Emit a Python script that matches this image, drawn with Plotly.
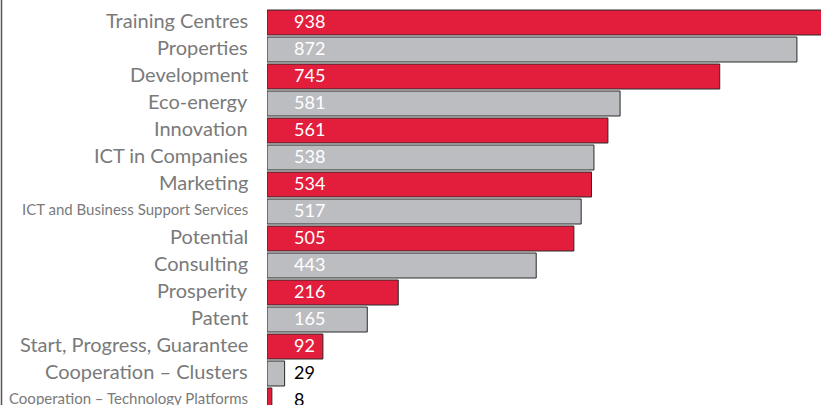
import plotly.graph_objects as go

categories = [
    "Training Centres", "Properties", "Development", "Eco-energy", "Innovation",
    "ICT in Companies", "Marketing", "ICT and Business Support Services", "Potential",
    "Consulting", "Prosperity", "Patent", "Start, Progress, Guarantee",
    "Cooperation – Clusters", "Cooperation – Technology Platforms",
]
values = [938, 872, 745, 581, 561, 538, 534, 517, 505, 443, 216, 165, 92, 29, 8]
small_labels = {"ICT and Business Support Services", "Cooperation – Technology Platforms"}

RED = "#E31D3C"
GREY = "#BCBDC0"
colors = [RED if i % 2 == 0 else GREY for i in range(len(values))]

W, H = 821, 405
L = 267
fig = go.Figure()
fig.add_trace(go.Bar(
    x=values, y=list(range(len(categories))), orientation="h",
    marker=dict(color=colors, line=dict(color="#2a2a2a", width=1)),
    width=0.926, hoverinfo="skip",
))

annotations = []
for i, (c, v) in enumerate(zip(categories, values)):
    annotations.append(dict(
        x=0, y=i, xref="x", yref="y", text=str(v), showarrow=False,
        xanchor="left", yanchor="middle", xshift=25, yshift=1.5,
        font=dict(family="Lato", size=18, color="white" if v > 60 else "black"),
    ))
    annotations.append(dict(
        x=0, y=i, xref="x", yref="y", text=c, showarrow=False,
        xanchor="right", yanchor="middle", xshift=-17, yshift=2.5,
        font=dict(family="Lato", size=15 if c in small_labels else 20, color="#7a7a7a"),
    ))

fig.update_layout(
    width=W, height=H,
    margin=dict(l=L, r=0, t=0, b=0),
    plot_bgcolor="white", paper_bgcolor="white",
    showlegend=False,
    xaxis=dict(range=[0, (W - L) / 0.6077], visible=False, fixedrange=True),
    yaxis=dict(range=[14.1667, -0.8333], visible=False, fixedrange=True),
    annotations=annotations,
    shapes=[dict(type="line", xref="paper", yref="paper",
                 x0=(1.5 - L) / (W - L), x1=(1.5 - L) / (W - L), y0=0, y1=1,
                 line=dict(color="#555555", width=1.5))],
)

fig.write_html("out.html", config={"displayModeBar": False},
               post_script="document.body.style.margin='0';document.body.style.overflow='hidden';")
